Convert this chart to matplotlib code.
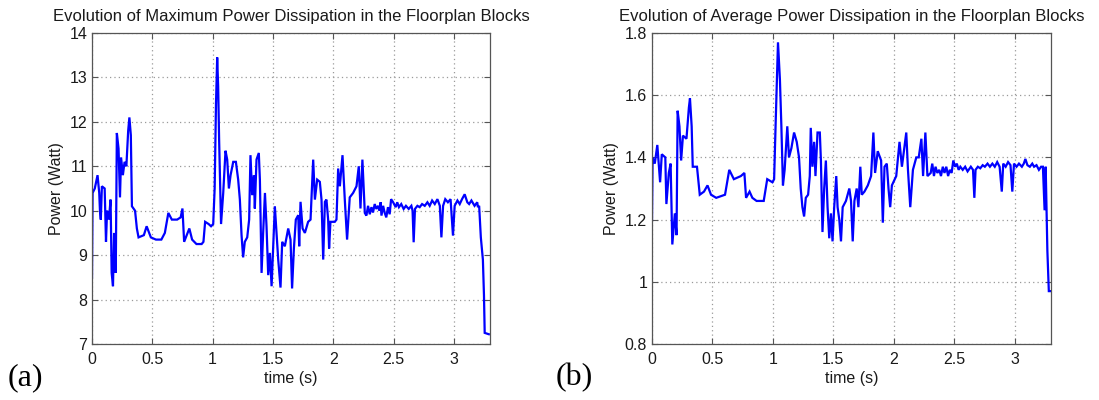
import matplotlib
matplotlib.use("Agg")
import matplotlib.pyplot as plt

# ---------------- data ----------------
t_max = [0.000, 0.005, 0.023, 0.046, 0.060, 0.066, 0.073, 0.082, 0.105, 0.116, 0.125, 0.140,
         0.154, 0.163, 0.174, 0.183, 0.197, 0.206, 0.220, 0.232, 0.241, 0.256, 0.270, 0.285,
         0.300, 0.310, 0.322, 0.331, 0.357, 0.372, 0.386, 0.430, 0.453, 0.488, 0.530, 0.575,
         0.604, 0.633, 0.662, 0.706, 0.735, 0.750, 0.764, 0.793, 0.807, 0.830, 0.866, 0.909,
         0.924, 0.938, 0.967, 0.987, 1.005,
         1.017, 1.028, 1.038, 1.046, 1.054, 1.060, 1.070, 1.088, 1.107, 1.121, 1.135, 1.149,
         1.171, 1.193, 1.212, 1.226, 1.240, 1.253, 1.267, 1.287, 1.303, 1.314, 1.328, 1.342,
         1.350, 1.364, 1.383, 1.392, 1.406, 1.419, 1.434, 1.447, 1.461, 1.475, 1.489, 1.502,
         1.516, 1.530, 1.544, 1.563, 1.577, 1.599, 1.627, 1.646, 1.659, 1.674, 1.690, 1.710,
         1.718, 1.729, 1.746, 1.765, 1.792, 1.812, 1.834, 1.848, 1.867, 1.889, 1.903, 1.917,
         1.931, 1.944, 1.958, 1.966, 1.977, 2.013, 2.027, 2.041, 2.055, 2.077, 2.096, 2.115,
         2.137, 2.165, 2.193, 2.212, 2.226, 2.242, 2.262,
         2.275, 2.289, 2.303, 2.317, 2.330, 2.344, 2.358, 2.372, 2.385, 2.393, 2.400, 2.414,
         2.426, 2.440, 2.454, 2.468, 2.480, 2.497, 2.518, 2.531, 2.545, 2.564, 2.584, 2.603,
         2.626, 2.648, 2.658, 2.667, 2.678, 2.698, 2.717, 2.737, 2.759, 2.781, 2.800, 2.820,
         2.842, 2.864, 2.884, 2.897, 2.911, 2.929, 2.951, 2.973, 2.993, 3.007, 3.030, 3.049,
         3.068, 3.090, 3.112, 3.127, 3.146, 3.172, 3.194, 3.200, 3.210,
         3.224, 3.241, 3.250, 3.256, 3.290]
p_max = [8.5, 10.4, 10.5, 10.8, 10.4, 10.0, 9.8, 10.55, 10.5, 9.3, 10.0, 9.8,
         10.25, 8.6, 8.3, 9.5, 8.6, 11.75, 11.4, 10.3, 11.2, 10.8, 11.1, 11.0,
         11.8, 12.1, 11.7, 10.1, 10.0, 9.6, 9.4, 9.45, 9.65, 9.4, 9.35, 9.35,
         9.5, 9.95, 9.8, 9.8, 9.85, 10.05, 9.3, 9.5, 9.6, 9.35, 9.25, 9.25,
         9.3, 9.75, 9.7, 9.65, 9.7,
         10.5, 12.4, 13.45, 12.8, 11.6, 10.9, 9.7, 10.4, 11.35, 11.15, 10.5, 10.8,
         11.1, 11.1, 10.7, 10.25, 9.45, 8.95, 9.3, 9.4, 9.8, 11.25, 10.35, 10.8,
         10.05, 11.15, 11.3, 10.7, 8.6, 9.5, 10.4, 9.65, 8.55, 9.05, 8.3, 9.15,
         10.1, 9.5, 8.9, 8.27, 9.3, 9.2, 9.6, 9.35, 8.25, 9.15, 9.8, 9.9,
         9.2, 10.2, 9.6, 9.5, 9.75, 9.8, 11.15, 10.25, 10.7, 10.65, 10.25, 8.9,
         10.2, 10.25, 9.8, 9.15, 9.75, 9.75, 9.8, 10.95, 10.55, 11.25, 10.25, 9.35,
         10.3, 10.4, 10.55, 11.0, 10.05, 11.15, 9.95,
         9.89, 10.11, 9.92, 10.08, 9.96, 10.15, 10.04, 10.11, 10.0, 10.19, 9.89, 10.11,
         9.96, 9.85, 10.08, 9.92, 10.26, 10.19, 10.08, 10.19, 10.08, 10.15, 10.04, 10.11,
         10.04, 10.11, 10.0, 9.29, 10.04, 10.11, 10.08, 10.15, 10.11, 10.19, 10.11, 10.23,
         10.15, 10.26, 10.11, 9.4, 10.11, 10.26, 10.19, 10.26, 9.44, 10.11, 10.23, 10.15,
         10.26, 10.37, 10.19, 10.15, 10.23, 10.11, 10.19, 10.08, 10.11,
         9.4, 8.9, 8.1, 7.25, 7.22]

t_avg = [0.000, 0.005, 0.023, 0.044, 0.067, 0.081, 0.110, 0.119, 0.139, 0.154, 0.168, 0.189,
         0.203, 0.212, 0.227, 0.241, 0.256, 0.285, 0.305, 0.314, 0.328, 0.337, 0.372, 0.395,
         0.430, 0.459, 0.488, 0.531, 0.604, 0.639, 0.677, 0.735, 0.764, 0.778, 0.807, 0.830,
         0.865, 0.924, 0.953, 0.996, 1.010,
         1.022, 1.042, 1.058, 1.070, 1.083, 1.097, 1.119, 1.133, 1.153, 1.175, 1.197, 1.216,
         1.230, 1.244, 1.258, 1.272, 1.291, 1.305, 1.313, 1.327, 1.341, 1.352, 1.369, 1.388,
         1.397, 1.410, 1.424, 1.438, 1.452, 1.466, 1.480, 1.493, 1.507, 1.524, 1.535, 1.549,
         1.563, 1.577, 1.604, 1.632, 1.646, 1.660, 1.674, 1.693, 1.707, 1.723, 1.735, 1.757,
         1.785, 1.812, 1.831, 1.845, 1.867, 1.895, 1.909, 1.923, 1.942, 1.956, 1.970, 1.984,
         2.020, 2.047, 2.067, 2.103, 2.117, 2.136, 2.158, 2.186, 2.206, 2.228, 2.242, 2.261,
         2.278, 2.305,
         2.318, 2.332, 2.345, 2.360, 2.376, 2.390, 2.405, 2.419, 2.434, 2.449, 2.463, 2.478,
         2.492, 2.507, 2.521, 2.536, 2.550, 2.570, 2.590, 2.610, 2.637, 2.655, 2.666, 2.676,
         2.695, 2.715, 2.735, 2.753, 2.775, 2.795, 2.815, 2.835, 2.855, 2.875, 2.893, 2.905,
         2.925, 2.945, 2.965, 2.980, 2.994, 3.015, 3.035, 3.059, 3.075, 3.088, 3.105, 3.125,
         3.145, 3.160, 3.180, 3.200, 3.218, 3.233, 3.247, 3.256, 3.270, 3.282, 3.305]
p_avg = [1.20, 1.40, 1.38, 1.44, 1.32, 1.41, 1.40, 1.25, 1.35, 1.38, 1.12, 1.22,
         1.15, 1.55, 1.50, 1.39, 1.47, 1.46, 1.56, 1.59, 1.50, 1.37, 1.37, 1.28,
         1.29, 1.31, 1.28, 1.27, 1.28, 1.36, 1.33, 1.34, 1.35, 1.27, 1.29, 1.27,
         1.26, 1.26, 1.33, 1.32, 1.33,
         1.50, 1.77, 1.65, 1.50, 1.31, 1.36, 1.50, 1.40, 1.43, 1.48, 1.45, 1.40,
         1.30, 1.24, 1.21, 1.27, 1.28, 1.34, 1.495, 1.37, 1.45, 1.34, 1.48, 1.48,
         1.39, 1.16, 1.30, 1.39, 1.24, 1.14, 1.22, 1.13, 1.24, 1.34, 1.24, 1.20,
         1.13, 1.24, 1.26, 1.30, 1.26, 1.13, 1.26, 1.30, 1.24, 1.37, 1.28, 1.29,
         1.31, 1.34, 1.48, 1.35, 1.42, 1.39, 1.19, 1.37, 1.38, 1.30, 1.24, 1.31,
         1.34, 1.45, 1.37, 1.48, 1.36, 1.24, 1.36, 1.40, 1.40, 1.46, 1.34, 1.48,
         1.34, 1.35,
         1.38, 1.34, 1.37, 1.35, 1.36, 1.34, 1.37, 1.35, 1.37, 1.34, 1.36, 1.35,
         1.39, 1.37, 1.38, 1.36, 1.37, 1.36, 1.37, 1.355, 1.37, 1.36, 1.27, 1.36,
         1.37, 1.365, 1.375, 1.37, 1.38, 1.37, 1.38, 1.37, 1.385, 1.37, 1.29, 1.38,
         1.37, 1.385, 1.375, 1.29, 1.38, 1.37, 1.38, 1.37, 1.38, 1.395, 1.375, 1.37,
         1.38, 1.37, 1.375, 1.36, 1.37, 1.37, 1.23, 1.37, 1.10, 0.97, 0.97]

titles = ["Evolution of Maximum Power Dissipation in the Floorplan Blocks",
          "Evolution of Average Power Dissipation in the Floorplan Blocks"]
panel_tags = ["(a)", "(b)"]
x_label = "time (s)"
y_label = "Power (Watt)"
x_ticks = [0, 0.5, 1, 1.5, 2, 2.5, 3]
x_ticklabels = ["0", "0.5", "1", "1.5", "2", "2.5", "3"]
y_ticks_a = [7, 8, 9, 10, 11, 12, 13, 14]
y_ticklabels_a = ["7", "8", "9", "10", "11", "12", "13", "14"]
y_ticks_b = [0.8, 1.0, 1.2, 1.4, 1.6, 1.8]
y_ticklabels_b = ["0.8", "1", "1.2", "1.4", "1.6", "1.8"]

# ---------------- figure ----------------
plt.rcParams["font.family"] = ["Liberation Sans", "DejaVu Sans"]
W, H = 1099, 400
fig = plt.figure(figsize=(W / 100, H / 100), dpi=100)

spine_col = "#555555"
text_col = "#1a1a1a"

def make_axes(left_px, right_px, top_px, bottom_px):
    return fig.add_axes([left_px / W, 1 - bottom_px / H,
                         (right_px - left_px) / W, (bottom_px - top_px) / H])

axA = make_axes(92, 490, 33, 344)
axB = make_axes(652, 1051, 33, 344)

panels = [
    (axA, t_max, p_max, (7, 14), y_ticks_a, y_ticklabels_a, titles[0], panel_tags[0], 8),
    (axB, t_avg, p_avg, (0.8, 1.8), y_ticks_b, y_ticklabels_b, titles[1], panel_tags[1], 556),
]

for ax, tx, py, ylim, yt, ytl, title, tag, tag_x in panels:
    ax.plot(tx, py, color="#0000ff", linewidth=1.6, solid_joinstyle="miter")
    ax.set_xlim(0, 3.3)
    ax.set_ylim(*ylim)
    ax.set_xticks(x_ticks)
    ax.set_xticklabels(x_ticklabels)
    ax.set_yticks(yt)
    ax.set_yticklabels(ytl)
    ax.grid(True, linestyle=(0, (1, 2.5)), color="#9a9a9a", linewidth=0.9)
    ax.tick_params(direction="in", length=4, width=0.8, color=spine_col,
                   top=True, right=True, labelsize=11.5, labelcolor=text_col)
    ax.tick_params(axis="x", pad=5.5)
    ax.tick_params(axis="y", pad=3.5)
    for s in ax.spines.values():
        s.set_color(spine_col)
        s.set_linewidth(0.9)
    ax.set_title(title, fontsize=12, color=text_col, pad=9)
    ax.set_xlabel(x_label, fontsize=11.5, color=text_col, labelpad=3)
    ax.set_ylabel(y_label, fontsize=11.5, color=text_col, labelpad=4)
    fig.text(tag_x / W, 1 - 378 / H, tag, fontsize=23, family=["Liberation Serif", "DejaVu Serif"],
             color="black", ha="left", va="center")

fig.savefig("out.png", dpi=100, facecolor="white")
